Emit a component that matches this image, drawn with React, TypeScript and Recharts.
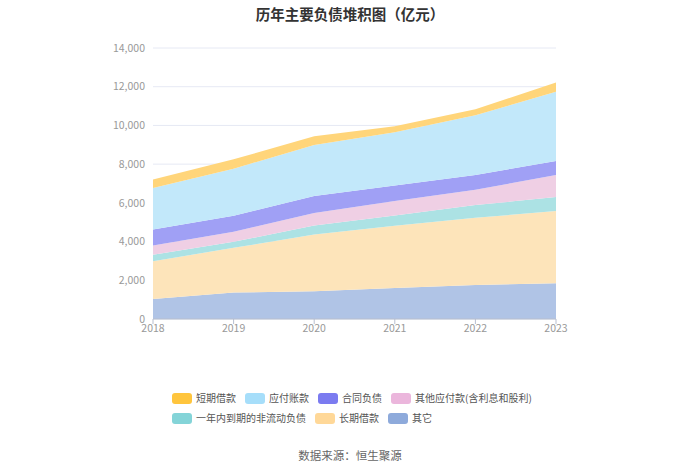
import { AreaChart, Area, XAxis, YAxis, CartesianGrid } from "recharts";

const YEARS = ["2018", "2019", "2020", "2021", "2022", "2023"];

// 亿元
const OTHER = [1035, 1363, 1432, 1605, 1760, 1846];
const LONG_LOAN = [1950, 2313, 2934, 3209, 3469, 3728];
const DUE_NONCURRENT = [328, 310, 466, 535, 655, 725];
const OTHER_PAYABLE = [483, 518, 638, 742, 794, 1138];
const CONTRACT = [829, 828, 880, 811, 759, 725];
const PAYABLE = [2139, 2433, 2640, 2744, 3089, 3572];
const SHORT_LOAN = [449, 483, 449, 311, 311, 483];

const Y_TICKS = [0, 2000, 4000, 6000, 8000, 10000, 12000, 14000];

// bottom -> top stacking order
const SERIES = [
  { key: "other", name: "其它", values: OTHER, fill: "#b0c4e6", legend: "#8eaadb" },
  { key: "longLoan", name: "长期借款", values: LONG_LOAN, fill: "#fde4ba", legend: "#ffd898" },
  { key: "dueNc", name: "一年内到期的非流动负债", values: DUE_NONCURRENT, fill: "#ace2e4", legend: "#84d4d8" },
  { key: "otherPay", name: "其他应付款(含利息和股利)", values: OTHER_PAYABLE, fill: "#efcfe4", legend: "#ebb6dc" },
  { key: "contract", name: "合同负债", values: CONTRACT, fill: "#a0a0f5", legend: "#7b7bf0" },
  { key: "payable", name: "应付账款", values: PAYABLE, fill: "#c2e8fa", legend: "#a6defa" },
  { key: "shortLoan", name: "短期借款", values: SHORT_LOAN, fill: "#ffd57a", legend: "#ffc53d" },
];

const data = YEARS.map((year, i) => {
  const row: Record<string, string | number> = { year };
  SERIES.forEach((s) => {
    row[s.key] = s.values[i];
  });
  return row;
});

const font = '"Noto Sans CJK SC", "Noto Sans", sans-serif';

function LegendBlock() {
  // legend lists the top band first
  const items = [...SERIES].reverse();
  return (
    <div
      style={{
        position: "absolute",
        left: 172,
        top: 392,
        width: 380,
        display: "flex",
        flexWrap: "wrap",
        columnGap: 9,
        rowGap: 8,
      }}
    >
      {items.map((s) => (
        <div key={s.key} style={{ display: "flex", alignItems: "center", height: 12 }}>
          <span
            style={{
              width: 20,
              height: 11,
              borderRadius: 3,
              background: s.legend,
              marginRight: 4,
              display: "inline-block",
            }}
          />
          <span style={{ fontSize: 10, lineHeight: "12px", color: "#555", whiteSpace: "nowrap" }}>{s.name}</span>
        </div>
      ))}
    </div>
  );
}

export default function App() {
  return (
    <div style={{ position: "absolute", left: 0, top: 0, width: 700, height: 473, background: "#fff", fontFamily: font }}>
      <div
        style={{
          position: "absolute",
          top: 3,
          width: 700,
          textAlign: "center",
          fontSize: 14.5,
          fontWeight: 700,
          color: "#333",
        }}
      >
        历年主要负债堆积图（亿元）
      </div>
      <AreaChart width={700} height={473} data={data} margin={{ top: 48, right: 144, bottom: 124, left: 93 }}>
        <CartesianGrid vertical={false} stroke="#e6e9f4" />
        <XAxis
          dataKey="year"
          height={30}
          tick={{ fontSize: 10.5, fill: "#999" }}
          tickSize={5}
          tickMargin={1}
          stroke="#b8bfcf"
        />
        <YAxis
          width={60}
          domain={[0, 14000]}
          ticks={Y_TICKS}
          axisLine={false}
          tickLine={false}
          tick={{ fontSize: 10.5, fill: "#999" }}
          tickFormatter={(v: number) => v.toLocaleString("en-US")}
        />
        {SERIES.map((s) => (
          <Area
            key={s.key}
            type="linear"
            dataKey={s.key}
            name={s.name}
            stackId="1"
            stroke="none"
            fill={s.fill}
            fillOpacity={1}
            isAnimationActive={false}
          />
        ))}
      </AreaChart>
      <LegendBlock />
      <div
        style={{
          position: "absolute",
          top: 447,
          width: 700,
          textAlign: "center",
          fontSize: 11.5,
          color: "#666",
        }}
      >
        数据来源：恒生聚源
      </div>
    </div>
  );
}
